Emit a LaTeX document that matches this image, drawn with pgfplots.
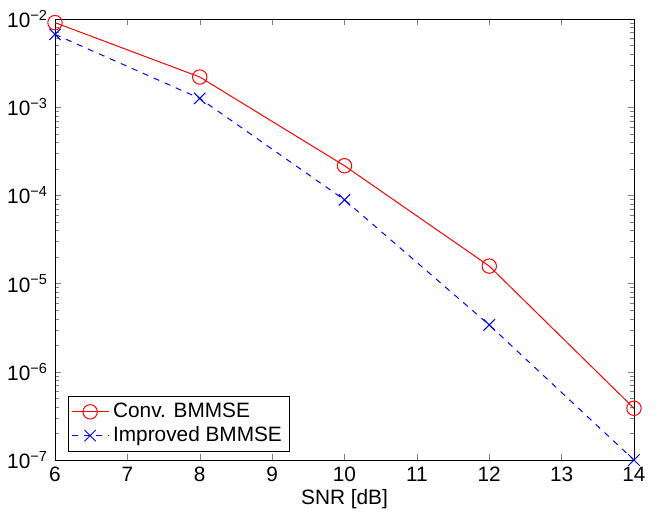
\documentclass[border=0pt]{standalone}
\usepackage{pgfplots}
\pgfplotsset{compat=1.18}
\usepackage{fontspec}
\setmainfont{Liberation Sans}
\begin{document}
\begin{tikzpicture}
\begin{semilogyaxis}[
 name=ax,
 width=289.5pt, height=220.5pt, scale only axis,
 xmin=6, xmax=14, ymin=1e-7, ymax=1e-2,
 xtick={6,7,8,9,10,11,12,13,14},
 ytick={1e-7,1e-6,1e-5,1e-4,1e-3,1e-2},
 yticklabels={10\textsuperscript{−7},10\textsuperscript{−6},10\textsuperscript{−5},10\textsuperscript{−4},10\textsuperscript{−3},10\textsuperscript{−2}},
 /pgf/number format/assume math mode=true,
 font=\fontsize{10.4}{12}\selectfont,
 tick label style={font=\fontsize{10.4}{12}\selectfont},
 major tick length=3pt, minor tick length=1.8pt,
 tick align=inside, tick pos=both,
 xlabel={SNR [dB]},
 xlabel style={font=\fontsize{10.4}{12}\selectfont, yshift=3pt},
 legend style={at={(0.022,0.018)}, anchor=south west, draw=black, font=\fontsize{10.4}{12}\selectfont, inner sep=1.5pt, row sep=-1pt},
 legend image code/.code={\draw[#1, mark repeat=2, mark phase=2] plot coordinates {(0pt,0pt) (9.25pt,0pt) (18.5pt,0pt)};},
 legend cell align=left,
]
\addplot[red, line width=0.5pt, mark=o, mark size=3.6pt, mark options={solid}] coordinates {
 (6,9.1e-3) (8,2.2e-3) (10,2.17e-4) (12,1.58e-5) (14,3.86e-7)};
\addlegendentry{Conv. BMMSE}
\addplot[blue, line width=0.5pt, dash pattern=on 3pt off 3pt, mark=x, mark size=4pt, mark options={solid}] coordinates {
 (6,6.7e-3) (8,1.26e-3) (10,8.9e-5) (12,3.4e-6) (14,1.0e-7)};
\addlegendentry{Improved BMMSE}
\end{semilogyaxis}
\path[use as bounding box] ([xshift=-27.5pt,yshift=-25.5pt]ax.south west) rectangle ([xshift=13.5pt,yshift=9.5pt]ax.north east);
\end{tikzpicture}
\end{document}
